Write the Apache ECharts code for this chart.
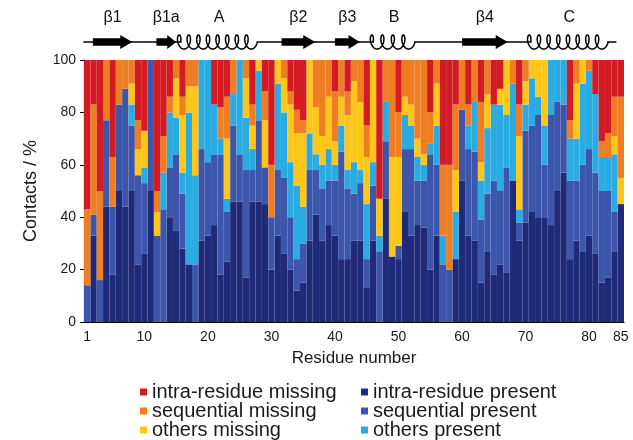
<!DOCTYPE html>
<html>
<head>
<meta charset="utf-8">
<script src="https://cdn.jsdelivr.net/npm/echarts@6/dist/echarts.min.js"></script>
<style>
  html, body { margin: 0; padding: 0; background: #fff; }
  #chart { width: 633px; height: 440px; }
</style>
</head>
<body>
<div id="chart"></div>
<script>
// residue numbers 1..85
var residues = [];
for (var r = 1; r <= 85; r++) residues.push(String(r));
var labelResidues = [1, 10, 20, 30, 40, 50, 60, 70, 80, 85];

// % of contacts per residue, one array per category (bottom -> top of the stack)
var intraPresent = [0,33,0,44,18,50,44,50,22,26, 50,0,0,40,35,28,22,0,31,33, 37,18,23,46,46,17,46,46,45,20,
  33,26,20,12,15,31,41,31,37,33, 24,24,31,31,13,31,0,47,25,24, 42,33,37,36,20,33,0,0,24,54,
  33,31,15,27,18,22,19,54,31,38, 42,40,40,37,50,57,24,31,27,33, 26,15,17,27,45];
var seqPresent = [14,8,16,33,26,33,45,25,34,27, 50,33,43,19,29,21,0,22,35,28, 27,46,19,29,18,41,12,31,14,20,
  25,29,20,12,15,27,17,20,17,21, 41,27,18,22,11,21,27,22,0,5, 24,33,17,18,44,27,22,20,0,27,
  33,34,24,22,36,28,40,0,7,35, 33,39,20,42,34,26,30,23,33,33, 31,35,33,15,0];
var othersPresent = [0,0,0,0,0,0,0,8,0,6, 0,0,14,21,14,8,58,34,34,39, 19,6,5,12,36,20,8,19,0,0,
  33,25,21,28,14,14,6,9,12,6, 10,7,12,5,21,9,6,15,0,0, 13,9,9,6,4,15,11,0,18,0,
  9,19,15,25,29,33,20,37,5,10, 18,7,15,21,16,17,16,16,31,30, 30,13,13,22,0];
var othersMissing = [0,0,0,0,0,0,0,8,10,14, 0,9,0,0,15,22,10,34,0,0, 0,0,23,0,0,15,9,4,18,0,
  9,13,22,20,28,28,18,11,20,9, 11,21,31,26,18,39,14,0,38,34, 7,8,7,4,0,16,0,0,16,0,
  0,0,7,13,0,6,21,0,28,9, 7,14,25,0,0,0,0,21,9,0, 0,0,0,7,10];
var seqMissing = [29,42,34,23,19,17,11,9,11,0, 0,8,14,6,7,7,10,10,0,0, 0,12,16,13,0,7,8,0,11,20,
  0,7,5,9,5,0,18,29,14,19, 14,9,8,16,12,0,0,16,37,17, 14,17,30,36,12,9,27,40,25,19,
  8,16,23,13,0,0,0,9,12,8, 0,0,0,0,0,0,7,9,0,4, 0,6,9,15,31];
var intraMissing = [57,17,50,0,37,0,0,0,23,27, 0,50,29,14,0,14,0,0,0,0, 17,18,14,0,0,0,17,0,12,40,
  0,0,12,19,23,0,0,0,0,12, 0,12,0,0,25,0,53,0,0,20, 0,0,0,0,20,0,40,40,17,0,
  17,0,16,0,17,11,0,0,17,0, 0,0,0,0,0,0,23,0,0,0, 13,31,28,14,14];

// secondary structure (residue ranges)
var ssLabels = ["β1", "β1a", "A", "β2", "β3", "B", "β4", "C"];
var ssKinds  = ["strand", "strand", "helix", "strand", "strand", "helix", "strand", "helix"];
var ssStart  = [1.9, 11.9, 15.7, 31.6, 40.0, 46.0, 60.0, 70.8];
var ssEnd    = [8.1, 15.0, 27.8, 36.9, 43.9, 52.6, 67.2, 83.0];
var ssTurns  = [0, 0, 8, 0, 0, 4, 0, 8];
var backbone = [0.4, 84.3];

var FONT = "'Liberation Sans', Arial, sans-serif";
var colors = {
  intraPresent: "#1f2a78",
  seqPresent: "#3b56aa",
  othersPresent: "#2aabe2",
  othersMissing: "#fcc71a",
  seqMissing: "#ef7d22",
  intraMissing: "#d41a22"
};

function barSeries(name, values, color) {
  return {
    name: name,
    type: "bar",
    stack: "contacts",
    data: values,
    barCategoryGap: "0%",
    itemStyle: { color: color },
    silent: true
  };
}

var ssData = [];
for (var k = 0; k < ssLabels.length; k++) {
  ssData.push([ssStart[k], ssEnd[k], ssKinds[k] === "helix" ? 1 : 0, ssTurns[k]]);
}

function drawElement(params, api) {
  var i = params.dataIndex;
  var p0 = api.coord([api.value(0), 0]);
  var p1 = api.coord([api.value(1), 0]);
  var base = p0[1];
  var children = [];
  if (api.value(2) === 0) {
    // beta strand arrow
    var head = Math.min(12, (p1[0] - p0[0]) * 0.45);
    children.push({
      type: "polygon",
      shape: { points: [
        [p0[0], base - 3.7], [p1[0] - head, base - 3.7], [p1[0] - head, base - 7],
        [p1[0], base], [p1[0] - head, base + 7], [p1[0] - head, base + 3.7], [p0[0], base + 3.7]
      ] },
      style: { fill: "#000" }
    });
  } else {
    // helix coil: loops on top, arcs underneath
    var n = api.value(3);
    var w = p1[0] - p0[0];
    var kk = w / (2 * Math.PI * n);
    var a = 3.8, h = 7;
    var t0 = -Math.PI / 2;
    var pts = [];
    var steps = n * 48;
    for (var s = 0; s <= steps; s++) {
      var t = t0 + (2 * Math.PI * n) * s / steps;
      pts.push([p0[0] + kk * (t - t0) - a * (Math.sin(t) - Math.sin(t0)), base - h * Math.cos(t)]);
    }
    children.push({ type: "rect", shape: { x: p0[0] + 1, y: base - 2, width: w - 2, height: 4 }, style: { fill: "#fff" } });
    children.push({ type: "polyline", shape: { points: pts }, style: { stroke: "#000", lineWidth: 1.5, fill: null } });
  }
  children.push({
    type: "text",
    style: {
      text: ssLabels[i], x: (p0[0] + p1[0]) / 2, y: base - 24,
      align: "center", verticalAlign: "middle",
      font: "16px " + FONT, fill: "#111"
    }
  });
  return { type: "group", children: children };
}

function drawBackbone(params, api) {
  var p0 = api.coord([api.value(0), 0]);
  var p1 = api.coord([api.value(1), 0]);
  return {
    type: "line",
    shape: { x1: p0[0], y1: p0[1], x2: p1[0], y2: p1[1] },
    style: { stroke: "#000", lineWidth: 1.3 }
  };
}

var legendCommon = {
  orient: "vertical",
  icon: "rect",
  itemWidth: 7,
  itemHeight: 7,
  itemGap: -1,
  padding: 0,
  top: 382,
  height: 90,
  selectedMode: false,
  textStyle: { fontSize: 20, color: "#1a1a1a", fontFamily: FONT }
};

var option = {
  animation: false,
  backgroundColor: "#fff",
  textStyle: { fontFamily: FONT },
  legend: [
    Object.assign({}, legendCommon, { left: 140, data: ["intra-residue missing", "sequential missing", "others missing"] }),
    Object.assign({}, legendCommon, { left: 361, data: ["intra-residue present", "sequential present", "others present"] })
  ],
  grid: [
    { left: 84, right: 9, top: 60, bottom: 118 },
    { left: 84, right: 9, top: 24, height: 36 }
  ],
  xAxis: [
    {
      type: "category",
      data: residues,
      gridIndex: 0,
      name: "Residue number",
      nameLocation: "middle",
      nameGap: 28,
      nameTextStyle: { fontSize: 17, color: "#1a1a1a" },
      axisLine: { lineStyle: { color: "#000", width: 1.2 } },
      axisTick: { interval: 0, length: 3, lineStyle: { color: "#000" } },
      axisLabel: {
        interval: function (idx) { return labelResidues.indexOf(idx + 1) >= 0; },
        fontSize: 14, color: "#1a1a1a", margin: 8
      },
      splitLine: { show: false }
    },
    { type: "value", gridIndex: 1, min: 0.5, max: 85.5, show: false }
  ],
  yAxis: [
    {
      type: "value",
      gridIndex: 0,
      min: 0,
      max: 100,
      interval: 20,
      name: "Contacts / %",
      nameLocation: "middle",
      nameGap: 44,
      nameTextStyle: { fontSize: 18, color: "#1a1a1a" },
      axisLine: { show: true, lineStyle: { color: "#000", width: 1.2 } },
      axisTick: { show: true, length: 4, lineStyle: { color: "#000" } },
      axisLabel: { fontSize: 14, color: "#1a1a1a", margin: 8 },
      splitLine: { show: false }
    },
    { type: "value", gridIndex: 1, min: -1, max: 1, show: false }
  ],
  series: [
    barSeries("intra-residue present", intraPresent, colors.intraPresent),
    barSeries("sequential present", seqPresent, colors.seqPresent),
    barSeries("others present", othersPresent, colors.othersPresent),
    barSeries("others missing", othersMissing, colors.othersMissing),
    barSeries("sequential missing", seqMissing, colors.seqMissing),
    barSeries("intra-residue missing", intraMissing, colors.intraMissing),
    {
      type: "custom",
      xAxisIndex: 1,
      yAxisIndex: 1,
      renderItem: drawBackbone,
      data: [backbone],
      silent: true,
      z: 1
    },
    {
      type: "custom",
      xAxisIndex: 1,
      yAxisIndex: 1,
      renderItem: drawElement,
      data: ssData,
      silent: true,
      z: 2
    }
  ]
};

var chart = echarts.init(document.getElementById("chart"));
chart.setOption(option);
</script>
</body>
</html>
